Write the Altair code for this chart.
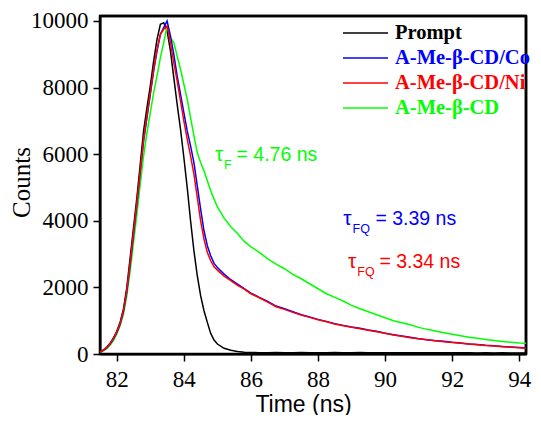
import altair as alt
import pandas as pd

# ---------------- data ----------------
times = [81.5, 81.6, 81.7, 81.8, 81.9, 82.0, 82.1, 82.2, 82.3, 82.4, 82.5, 82.6,
         82.7, 82.8, 82.9, 83.0, 83.1, 83.2, 83.3, 83.4, 83.5, 83.6, 83.7, 83.8,
         83.9, 84.0, 84.1, 84.2, 84.3, 84.4, 84.5, 84.6, 84.7, 84.8, 84.9, 85.0,
         85.2, 85.4, 85.6, 85.8, 86.0,
         86.25, 86.5, 86.75, 87.0, 87.25, 87.5, 87.75, 88.0, 88.25, 88.5, 88.75,
         89.0, 89.25, 89.5, 89.75, 90.0, 90.25, 90.5, 90.75, 91.0, 91.25, 91.5,
         91.75, 92.0, 92.25, 92.5, 92.75, 93.0, 93.25, 93.5, 93.75, 94.0,
         94.2]

prompt = [60, 120, 200, 320, 480, 680, 950, 1350, 2000, 2900, 3800, 4700,
          5700, 6700, 7400, 8050, 8800, 9450, 9900, 9950, 9700, 9100, 8300, 7500,
          6750, 5900, 5000, 4000, 3100, 2350, 1750, 1300, 950, 620, 420, 300,
          170, 110, 75, 55, 45,
          40, 38, 42, 36, 40, 44, 38, 41, 39, 43, 37,
          40, 42, 38, 36, 41, 39, 37, 40, 35, 38, 36,
          39, 34, 37, 35, 33, 36, 32, 34, 31, 33,
          30]

co = [55, 110, 185, 300, 450, 640, 900, 1280, 1880, 2700, 3600, 4500,
      5450, 6400, 7100, 7800, 8500, 9100, 9600, 9800, 10000, 9550, 9000, 8350,
      7800, 7250, 6700, 6250, 5750, 5050, 4350, 3700, 3250, 2950, 2720, 2600,
      2400, 2230, 2100, 1960, 1830,
      1700, 1580, 1440, 1360, 1270, 1180, 1110, 1040, 980, 910, 860,
      810, 770, 720, 680, 620, 580, 540, 500, 460, 430, 400,
      380, 350, 330, 300, 285, 260, 245, 225, 210, 195,
      180]

ni = [60, 115, 190, 310, 460, 660, 920, 1300, 1920, 2750, 3650, 4550,
      5500, 6450, 7150, 7850, 8550, 9150, 9600, 9750, 9850, 9350, 8750, 8200,
      7600, 7000, 6450, 5950, 5400, 4700, 4000, 3450, 3050, 2800, 2620, 2520,
      2340, 2200, 2060, 1950, 1810,
      1690, 1560, 1420, 1340, 1250, 1170, 1100, 1030, 970, 900, 850,
      800, 760, 710, 670, 620, 570, 530, 490, 455, 425, 395,
      370, 345, 320, 300, 280, 255, 240, 220, 205, 190,
      175]

free = [50, 95, 160, 260, 400, 600, 850, 1200, 1750, 2500, 3350, 4200,
        5100, 5950, 6650, 7250, 7850, 8350, 8900, 9350, 9850, 9500, 9350, 8950,
        8550, 8100, 7650, 7100, 6550, 6050, 5750, 5500, 5200, 4900, 4650, 4420,
        4080, 3820, 3620, 3380, 3220,
        3050, 2860, 2700, 2560, 2390, 2260, 2110, 1960, 1810, 1700, 1590,
        1460, 1360, 1270, 1180, 1090, 1000, 940, 880, 800, 740, 690,
        640, 590, 545, 505, 470, 435, 405, 375, 350, 330,
        320]

series_names = ["Prompt", "A-Me-β-CD/Co", "A-Me-β-CD/Ni", "A-Me-β-CD"]
series_colors = ["#000000", "#0000FF", "#FF0000", "#00FF00"]
series_values = [prompt, co, ni, free]

# annotations (lifetimes)
ann_tau_x = [84.93, 88.75, 88.89]
ann_sub_x = [85.20, 89.03, 89.17]
ann_eq_x = [85.57, 89.71, 89.83]
ann_y = [5970, 4050, 2760]
ann_sub = ["F", "FQ", "FQ"]
ann_val = ["= 4.76 ns", "= 3.39 ns", "= 3.34 ns"]
ann_colors = ["#00FF00", "#0000FF", "#FF0000"]

x_domain = [81.5, 94.2]
y_domain = [0, 10150]
x_ticks = list(range(82, 95))
y_ticks = list(range(0, 10001, 1000))

# ---------------- chart ----------------
W, H = 426, 338
SERIF = "Liberation Serif"
SANS = "Liberation Sans"

xscale = alt.Scale(domain=x_domain, nice=False, zero=False)
yscale = alt.Scale(domain=y_domain, nice=False)

x_axis = alt.Axis(
    values=x_ticks,
    labelExpr="datum.value % 2 === 0 ? datum.label : ''",
    tickSize={"condition": {"test": "datum.value % 2 !== 0", "value": 4}, "value": 7},
    grid=False,
    title="Time (ns)",
    titleFont=SANS, titleFontSize=23, titleFontWeight="normal",
    titleX=203, titleY=57, titleAlign="center", titleBaseline="alphabetic",
    labelFont=SERIF, labelFontSize=23, labelPadding=7, labelColor="black",
    labelFlush=False,
)
y_axis = alt.Axis(
    values=y_ticks,
    labelExpr="datum.value % 2000 === 0 ? datum.label : ''",
    tickSize={"condition": {"test": "datum.value % 2000 !== 0", "value": 4}, "value": 7},
    format="d",
    grid=False,
    title="Counts",
    titleFont=SERIF, titleFontSize=25, titleFontWeight="normal",
    titleX=-79, titleY=166, titleAlign="center", titleBaseline="middle",
    labelFont=SERIF, labelFontSize=23, labelPadding=5, labelColor="black",
    labelFlush=False,
)

X = alt.X("t:Q", scale=xscale, axis=x_axis)
Y = alt.Y("counts:Q", scale=yscale, axis=y_axis)

legend_centers = [16, 41, 66, 91]
SYM = 45

layers = []
for name, col, vals, cy in zip(series_names, series_colors, series_values, legend_centers):
    d = pd.DataFrame({"t": times, "counts": vals, "series": name})
    layers.append(
        alt.Chart(d).mark_line(strokeWidth=1.5).encode(
            x=X, y=Y,
            color=alt.Color(
                "series:N",
                scale=alt.Scale(domain=[name], range=[col]),
                legend=alt.Legend(
                    title=None, orient="none", legendX=242, legendY=cy - SYM / 2,
                    symbolType="stroke", symbolSize=SYM * SYM, symbolStrokeWidth=1.5,
                    labelFont=SERIF, labelFontWeight="bold", labelFontSize=20.5,
                    labelColor=col, labelOffset=6, padding=0, labelLimit=300,
                ),
            ),
        )
    )

# draw order: prompt, free, co, ni
layers = [layers[0], layers[3], layers[1], layers[2]]

ann = pd.DataFrame({
    "tau_x": ann_tau_x, "sub_x": ann_sub_x, "eq_x": ann_eq_x, "y": ann_y,
    "sub": ann_sub, "val": ann_val, "color": ann_colors, "tau": ["τ"] * 3,
})
base_ann = alt.Chart(ann)
tau = base_ann.mark_text(font=SANS, fontSize=21, align="left", baseline="middle").encode(
    x=alt.X("tau_x:Q", scale=xscale), y=alt.Y("y:Q", scale=yscale),
    text="tau:N", color=alt.Color("color:N", scale=None))
sub = base_ann.mark_text(font=SANS, fontSize=12.5, align="left", baseline="middle", dy=10).encode(
    x=alt.X("sub_x:Q", scale=xscale), y=alt.Y("y:Q", scale=yscale),
    text="sub:N", color=alt.Color("color:N", scale=None))
val = base_ann.mark_text(font=SANS, fontSize=19.5, align="left", baseline="middle").encode(
    x=alt.X("eq_x:Q", scale=xscale), y=alt.Y("y:Q", scale=yscale),
    text="val:N", color=alt.Color("color:N", scale=None))

# plot frame: top and right edges of the box, at the ends of the axis domains
edges = pd.DataFrame({
    "xa": [x_domain[0], x_domain[1]], "xb": [x_domain[1], x_domain[1]],
    "ya": [y_domain[1], y_domain[0]], "yb": [y_domain[1], y_domain[1]],
})
frame = alt.Chart(edges).mark_rule(color="#000000", strokeWidth=2.5, opacity=1).encode(
    x=alt.X("xa:Q", scale=xscale), x2="xb:Q",
    y=alt.Y("ya:Q", scale=yscale), y2="yb:Q",
)

chart = alt.layer(frame, *layers, tau, sub, val).resolve_scale(color="independent").properties(
    width=W, height=H,
    autosize=alt.AutoSizeParams(type="none"),
    padding={"left": 92, "top": 8, "right": 7, "bottom": 61},
    background="white",
).configure_view(
    stroke="#000000", strokeWidth=2.5, strokeOpacity=1
).configure_axis(
    domainColor="black", domainWidth=2, tickColor="black", tickWidth=1.5,
)

chart.save("out.html", embed_options={"renderer": "svg", "actions": False})
